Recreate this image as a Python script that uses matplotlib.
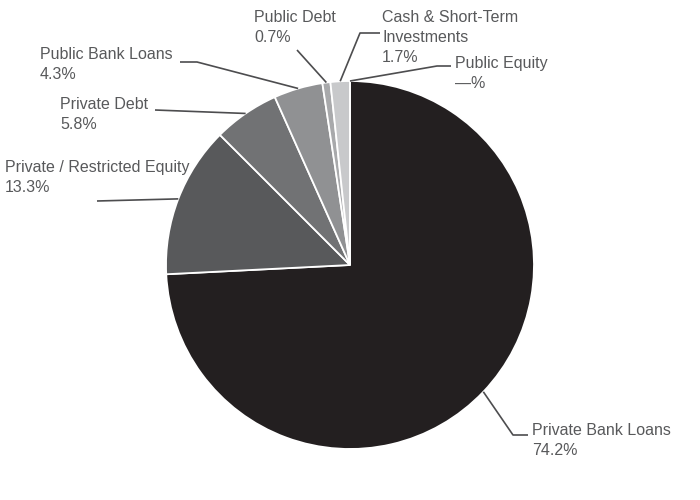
import numpy as np
import matplotlib.pyplot as plt

plt.rcParams['font.family'] = ['Liberation Sans', 'DejaVu Sans']

# Dữ liệu
labels = ['Private Bank Loans', 'Private / Restricted Equity', 'Private Debt',
          'Public Bank Loans', 'Public Debt', 'Cash & Short-Term\nInvestments',
          'Public Equity']
values = [74.2, 13.3, 5.8, 4.3, 0.7, 1.7, 0.0]
pct_text = ['74.2%', '13.3%', '5.8%', '4.3%', '0.7%', '1.7%', '—%']
colors = ['#231f20', '#58595b', '#717274', '#909193', '#a8a9ab', '#c8c9cb', '#e0e0e0']

# Vị trí nhãn (pixel) và điểm gãy của đường dẫn
text_pos = [(532, 423), (5, 160), (60, 97), (40, 47), (254, 10), (382, 10), (455, 56)]
elbows = [[(513, 435), (528, 435)],
          [(97, 201)],
          [(155, 110)],
          [(197, 62), (180, 62)],
          [(297, 50)],
          [(360, 33), (380, 33)],
          [(437, 66), (451, 66)]]

cx, cy, r = 350, 265, 184

fig = plt.figure(figsize=(7, 5), dpi=100)
ax = fig.add_axes([0, 0, 1, 1])
ax.pie(values, colors=colors, startangle=-90, counterclock=True,
       center=(cx, cy), radius=r, frame=True,
       wedgeprops=dict(edgecolor='white', linewidth=1.3))
ax.set_xlim(0, 700)
ax.set_ylim(500, 0)
ax.set_aspect('equal')
ax.axis('off')

# Đường dẫn và nhãn
cum = np.cumsum([0] + values)
for i, lab in enumerate(labels):
    mid = (cum[i] + cum[i + 1]) / 2
    ang = np.deg2rad(-90 + 360 * mid / 100)
    x0 = cx + r * np.cos(ang)
    y0 = cy + r * np.sin(ang)
    pts = [(x0, y0)] + elbows[i]
    ax.plot([p[0] for p in pts], [p[1] for p in pts], color='#4d4d4f', lw=1.2,
            solid_capstyle='butt')
    tx, ty = text_pos[i]
    # mỗi dòng một text riêng
    for j, line in enumerate(lab.split('\n') + [pct_text[i]]):
        ax.text(tx, ty + 20 * j, line, ha='left', va='top', fontsize=11.5,
                color='#58595b')

plt.savefig('out.png', dpi=100)
